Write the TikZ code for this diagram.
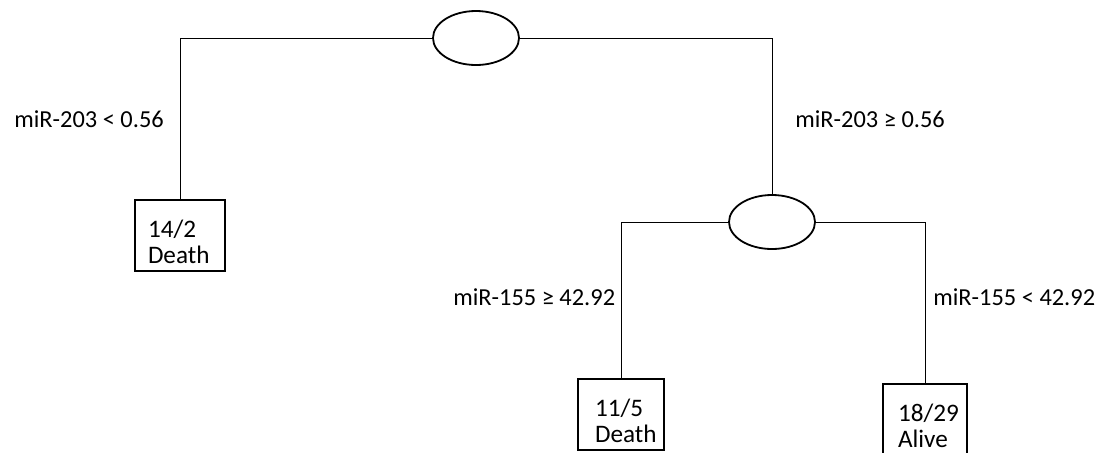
\documentclass[tikz,border=0pt]{standalone}
\usepackage{fontspec}
\setmainfont{Carlito}
\usepackage{tikz}
\usetikzlibrary{shapes.geometric}

\begin{document}
\begin{tikzpicture}[
      x=0.5pt, y=-0.5pt,
      font=\fontsize{12.2}{14}\selectfont,
      split/.style={draw, ellipse, line width=0.9pt, minimum width=43pt,
                    minimum height=27pt, inner sep=0pt},
      leaf/.style={draw, line width=0.7pt, align=left, text width=29pt,
                   inner xsep=7pt, inner ysep=0pt, text height=18.5pt,
                   text depth=17pt, font=\fontsize{12.6}{13.2}\selectfont},
      cond/.style={inner sep=0pt, anchor=base west},
      branch/.style={line width=0.5pt}]
    \useasboundingbox (0,0) rectangle (1103,452);
    \clip (0,0) rectangle (1103,452);
    % splits
    \node[split] (root) at (476,38) {};
    \node[split] (mir155) at (772,222) {};
    % leaves
    \node[leaf, text width=32pt, inner xsep=6.5pt] (deathA) at (180,235.5) {14/2\\Death};
    \node[leaf, text width=26pt, inner xsep=8.5pt] (deathB) at (621,414.5) {11/5\\Death};
    \node[leaf, text width=27pt, inner xsep=7.5pt] (alive) at (925,419.5) {18/29\\Alive};
    % branches
    \draw[branch] (root.west) -| (deathA.north);
    \draw[branch] (root.east) -| (mir155.north);
    \draw[branch] (mir155.west) -| (deathB.north);
    \draw[branch] (mir155.east) -| (alive.north);
    % conditions
    \node[cond] (lowA) at (14,127) {miR-203 < 0.56};
    \node[cond] (highA) at (795,127) {miR-203 ≥ 0.56};
    \node[cond] (highB) at (453,305) {miR-155 ≥ 42.92};
    \node[cond] (lowB) at (933,305) {miR-155 < 42.92};
  \end{tikzpicture}
\end{document}
